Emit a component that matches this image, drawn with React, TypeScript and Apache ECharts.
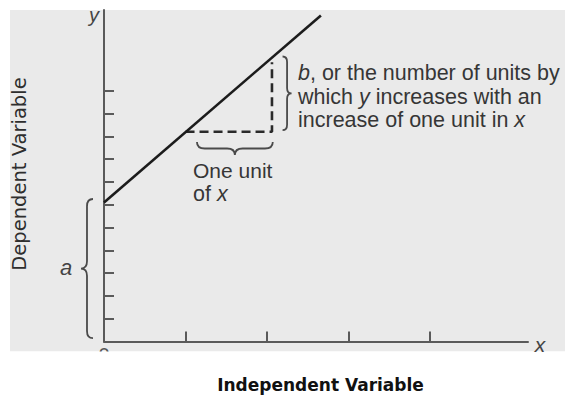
import React, { useEffect, useRef } from "react";
import * as echarts from "echarts";

// Tick positions on each axis (unit steps)
const X_TICKS = [1, 2, 3, 4];
const Y_TICKS = [1, 2, 3, 4, 5, 6, 7, 8, 9, 10, 11];

// Axis extents
const X_MAX = 5.2;
const Y_MAX = 14.54;

// Regression line y = a + b·x, drawn between its two end points
const LINE_POINTS = [
  [0, 6.1],
  [2.66, 14.3],
];

// Dashed step showing one unit of x and the rise b
const STEP_POINTS = [
  [1, 9.2],
  [2.06, 9.2],
  [2.06, 12.25],
];

// Curly braces: span end points in data units and the side the tip faces
const BRACES = [
  { x1: 2.19, y1: 12.5, x2: 2.19, y2: 9.27, side: "right", depth: 9 },
  { x1: 1.14, y1: 8.75, x2: 2.07, y2: 8.75, side: "down", depth: 13 },
  { x1: -0.135, y1: 6.25, x2: -0.135, y2: 0.15, side: "left", depth: 12 },
];

const SANS = "Liberation Sans, Arial, Helvetica, sans-serif";
const TEXT = "#363636";

const NORMALS: Record<string, number[]> = {
  right: [1, 0],
  down: [0, 1],
  left: [-1, 0],
};

function bracePath(p1: number[], p2: number[], n: number[], depth: number) {
  const dx = p2[0] - p1[0];
  const dy = p2[1] - p1[1];
  const L = Math.hypot(dx, dy);
  const t = [dx / L, dy / L];
  const h = depth / 2;
  const r = Math.min(h * 1.2, L / 4);
  const P = (u: number, v: number) =>
    `${(p1[0] + u * t[0] + v * n[0]).toFixed(2)},${(p1[1] + u * t[1] + v * n[1]).toFixed(2)}`;
  return (
    `M${P(0, 0)} Q${P(0, h)} ${P(r, h)} L${P(L / 2 - r, h)} ` +
    `Q${P(L / 2, h)} ${P(L / 2, 2 * h)} Q${P(L / 2, h)} ${P(L / 2 + r, h)} ` +
    `L${P(L - r, h)} Q${P(L, h)} ${P(L, 0)}`
  );
}

function label(
  text: string,
  x: number,
  y: number,
  extra: Record<string, unknown> = {}
) {
  return {
    type: "text",
    x,
    y,
    z: 20,
    style: {
      text,
      fontFamily: SANS,
      fontSize: 21.5,
      fill: TEXT,
      align: "left",
      verticalAlign: "middle",
      ...extra,
    },
  };
}

function richLine(text: string, x: number, y: number) {
  const base = { fontFamily: SANS, fontSize: 21.5, fill: TEXT, color: TEXT };
  return {
    type: "text",
    x,
    y,
    z: 20,
    style: {
      text,
      ...base,
      align: "left",
      verticalAlign: "middle",
      rich: {
        n: { ...base },
        i: { ...base, fontStyle: "italic" },
      },
    },
  };
}

export default function App() {
  const ref = useRef<HTMLDivElement>(null);

  useEffect(() => {
    if (!ref.current) return;
    const chart = echarts.init(ref.current, undefined, { renderer: "svg" });

    const axisLine = { show: true, lineStyle: { color: "#5a5a5a", width: 2 } };

    chart.setOption({
      animation: false,
      backgroundColor: "#ffffff",
      grid: { left: 104, top: 10, right: 37, bottom: 53.5 },
      xAxis: {
        type: "value",
        min: 0,
        max: X_MAX,
        axisLine: { ...axisLine, onZero: false },
        axisTick: {
          show: true,
          inside: true,
          length: 10,
          customValues: X_TICKS,
          lineStyle: { color: "#5a5a5a", width: 2 },
        },
        axisLabel: { show: false },
        splitLine: { show: false },
      },
      yAxis: {
        type: "value",
        min: 0,
        max: Y_MAX,
        axisLine: { ...axisLine, onZero: false },
        axisTick: {
          show: true,
          inside: true,
          length: 10,
          customValues: Y_TICKS,
          lineStyle: { color: "#5a5a5a", width: 2 },
        },
        axisLabel: { show: false },
        splitLine: { show: false },
      },
      series: [
        {
          type: "line",
          data: LINE_POINTS,
          symbol: "none",
          lineStyle: { color: "#1c1c1c", width: 2.6 },
          z: 5,
        },
        {
          type: "line",
          data: STEP_POINTS,
          symbol: "none",
          lineStyle: { color: "#2a2a2a", width: 2.6, type: [9, 5] },
          z: 4,
        },
        {
          type: "custom",
          clip: false,
          coordinateSystem: "cartesian2d",
          data: BRACES.map((b) => [b.x1, b.y1, b.x2, b.y2]),
          encode: { x: [0, 2], y: [1, 3] },
          renderItem: (params: any, api: any) => {
            const b = BRACES[params.dataIndex];
            const p1 = api.coord([api.value(0), api.value(1)]);
            const p2 = api.coord([api.value(2), api.value(3)]);
            return {
              type: "path",
              shape: { pathData: bracePath(p1, p2, NORMALS[b.side], b.depth) },
              style: { stroke: "#4a4a4a", fill: "none", lineWidth: 1.8 },
            };
          },
          z: 6,
        },
      ],
      graphic: [
        // scanned page area
        {
          type: "rect",
          z: -100,
          shape: { x: 10, y: 10, width: 555, height: 341.5 },
          style: { fill: "#eaeaea" },
        },
        {
          type: "text",
          x: 104,
          y: 345,
          z: -60,
          style: {
            text: "0",
            fontFamily: SANS,
            fontSize: 20,
            fill: "#555",
            align: "center",
            verticalAlign: "top",
          },
        },
        {
          type: "rect",
          z: -50,
          shape: { x: 0, y: 351.5, width: 565, height: 44 },
          style: { fill: "#ffffff" },
        },
        label("y", 94, 14.5, { fontStyle: "italic", fontSize: 20, fill: "#444", align: "center" }),
        label("x", 540, 344, { fontStyle: "italic", fontSize: 21, fill: "#444", align: "center" }),
        label("a", 66, 267.5, { fontStyle: "italic", fontSize: 22, fill: "#444", align: "center" }),
        richLine("{i|b}{n|, or the number of units by}", 298, 72.5),
        richLine("{n|which }{i|y}{n| increases with an}", 298, 96.5),
        richLine("{n|increase of one unit in }{i|x}", 298, 120),
        label("One unit", 193, 170.5, { fontSize: 21 }),
        richLine("{n|of }{i|x}", 193, 193.5),
        {
          type: "text",
          x: 19,
          y: 174,
          rotation: Math.PI / 2,
          z: 20,
          style: {
            text: "Dependent Variable",
            fontFamily: "DejaVu Sans, sans-serif",
            fontSize: 19.5,
            fill: "#2e2e2e",
            align: "center",
            verticalAlign: "middle",
          },
        },
        {
          type: "text",
          x: 320.5,
          y: 385,
          z: 20,
          style: {
            text: "Independent Variable",
            fontFamily: "DejaVu Sans, sans-serif",
            fontWeight: "bold",
            fontSize: 17,
            fill: "#111",
            align: "center",
            verticalAlign: "middle",
          },
        },
      ],
    });

    return () => chart.dispose();
  }, []);

  return (
    <div
      ref={ref}
      style={{ position: "absolute", left: 0, top: 0, width: 565, height: 395 }}
    />
  );
}
